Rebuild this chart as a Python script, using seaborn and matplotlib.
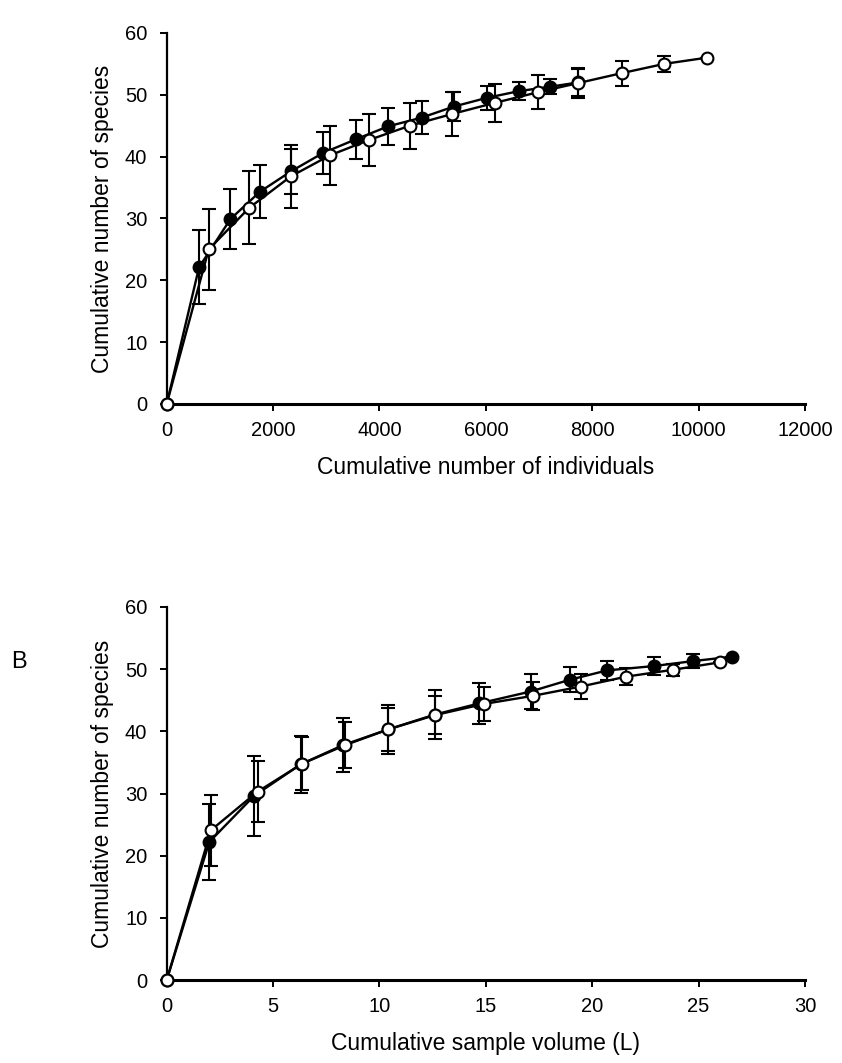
import matplotlib
matplotlib.use("Agg")
import matplotlib.pyplot as plt
import seaborn as sns
import pandas as pd

# ---- panel A: species vs individuals
a_fill_x = [0, 608, 1198, 1750, 2333, 2941, 3556, 4164, 4792, 5400, 6015, 6629, 7206, 7739]
a_fill_y = [0, 22.1, 29.9, 34.3, 37.6, 40.6, 42.8, 44.9, 46.3, 48.1, 49.5, 50.6, 51.3, 52.0]
a_fill_e = [0, 6.0, 4.9, 4.3, 3.7, 3.4, 3.2, 3.0, 2.7, 2.3, 1.9, 1.5, 1.2, 2.2]

a_open_x = [0, 790, 1549, 2333, 3067, 3806, 4572, 5368, 6171, 6975, 7739, 8555, 9357, 10155]
a_open_y = [0, 25.0, 31.7, 36.8, 40.2, 42.7, 45.0, 46.9, 48.7, 50.4, 51.9, 53.5, 55.0, 56.0]
a_open_e = [0, 6.6, 5.9, 5.1, 4.8, 4.2, 3.75, 3.6, 3.1, 2.75, 2.4, 2.0, 1.3, 0]

# ---- panel B: species vs sample volume
b_fill_x = [0, 2.0, 4.1, 6.3, 8.3, 10.4, 12.6, 14.7, 17.1, 18.95, 20.7, 22.9, 24.75, 26.55]
b_fill_y = [0, 22.2, 29.6, 34.7, 37.8, 40.3, 42.7, 44.5, 46.4, 48.3, 49.8, 50.5, 51.3, 52.0]
b_fill_e = [0, 6.1, 6.4, 4.6, 4.3, 4.0, 4.0, 3.3, 2.8, 2.0, 1.5, 1.5, 1.1, 0]

b_open_x = [0, 2.08, 4.27, 6.37, 8.4, 10.4, 12.6, 14.9, 17.2, 19.46, 21.6, 23.8, 26.0]
b_open_y = [0, 24.1, 30.3, 34.8, 37.8, 40.3, 42.6, 44.4, 45.7, 47.2, 48.8, 49.9, 51.1]
b_open_e = [0, 5.7, 4.9, 4.3, 3.7, 3.5, 3.1, 2.7, 2.2, 2.0, 1.4, 1.0, 0]

sns.set_style("ticks")
plt.rcParams['font.family'] = ['Liberation Sans', 'DejaVu Sans']
plt.rcParams.update({'text.color': 'black', 'axes.labelcolor': 'black',
                     'xtick.color': 'black', 'ytick.color': 'black',
                     'axes.edgecolor': 'black'})

fig = plt.figure(figsize=(8.42, 10.63), dpi=100)
axA = fig.add_axes([0.198, 0.620, 0.758, 0.349])
axB = fig.add_axes([0.198, 0.078, 0.758, 0.351])


def draw(ax, x, y, e, face, z):
    df = pd.DataFrame({'x': x, 'y': y})
    ax.errorbar(x, y, yerr=e, fmt='none', ecolor='black', elinewidth=1.5,
                capsize=5, capthick=1.5, zorder=z)
    sns.lineplot(data=df, x='x', y='y', ax=ax, color='black', linewidth=1.7,
                 marker='o', markersize=8.5, markerfacecolor=face,
                 markeredgecolor='black', markeredgewidth=1.5, zorder=z + 1)


def style(ax, xmax, xstep, xlabel):
    ax.set_xlim(0, xmax)
    ax.set_ylim(0, 60)
    ax.set_xticks(range(0, xmax + 1, xstep))
    ax.set_yticks(range(0, 61, 10))
    ax.set_xlabel(xlabel, fontsize=16.5, labelpad=12)
    ax.set_ylabel('Cumulative number of species', fontsize=16.5, labelpad=8)
    ax.tick_params(axis='y', labelsize=14.5, length=5, width=1.4, direction='out', pad=9)
    ax.tick_params(axis='x', labelsize=14.5, length=5, width=1.4, direction='out', pad=7)
    ax.spines['left'].set_linewidth(1.6)
    ax.spines['bottom'].set_linewidth(2.2)
    sns.despine(ax=ax)


draw(axA, a_fill_x, a_fill_y, a_fill_e, 'black', 2)
draw(axA, a_open_x, a_open_y, a_open_e, 'white', 4)
style(axA, 12000, 2000, 'Cumulative number of individuals')

draw(axB, b_fill_x, b_fill_y, b_fill_e, 'black', 2)
draw(axB, b_open_x, b_open_y, b_open_e, 'white', 4)
style(axB, 30, 5, 'Cumulative sample volume (L)')

for ax in (axA, axB):
    for ln in ax.lines:
        ln.set_clip_on(False)
    for c in ax.collections:
        c.set_clip_on(False)

fig.text(0.013, 0.372, 'B', fontsize=17)

fig.savefig('out.png', dpi=100)
